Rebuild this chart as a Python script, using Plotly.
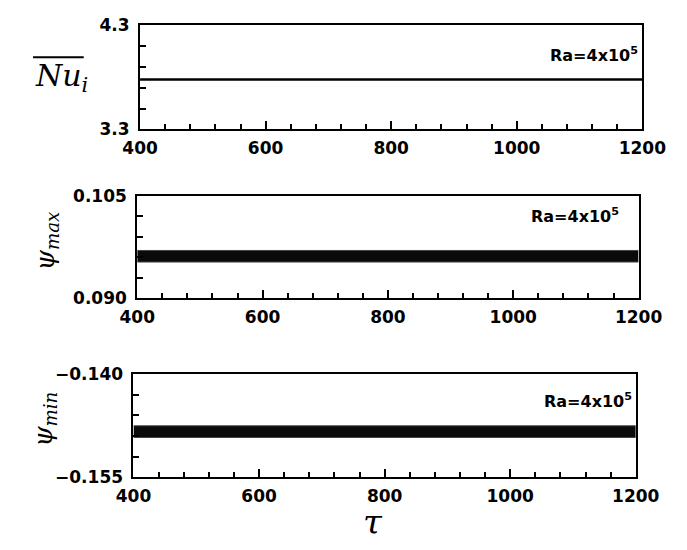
import plotly.graph_objects as go

W, H = 687, 550

# ---- data ----
tau = [400, 600, 800, 1000, 1200]
nu_mean = [3.78, 3.78, 3.78, 3.78, 3.78]
psi_max_upper = [0.0970, 0.0970, 0.0970, 0.0970, 0.0970]
psi_max_lower = [0.0953, 0.0953, 0.0953, 0.0953, 0.0953]
psi_min_upper = [-0.1475, -0.1475, -0.1475, -0.1475, -0.1475]
psi_min_lower = [-0.1492, -0.1492, -0.1492, -0.1492, -0.1492]

x_ticks = [400, 600, 800, 1000, 1200]
x_ticktext = ["400", "600", "800", "1000", "1200"]
nu_ticks = [3.3, 3.5, 3.7, 3.9, 4.1, 4.3]
nu_ticktext = ["3.3", "", "", "", "", "4.3"]
pmax_ticks = [0.090, 0.093, 0.096, 0.099, 0.102, 0.105]
pmax_ticktext = ["0.090", "", "", "", "", "0.105"]
pmin_ticks = [-0.155, -0.152, -0.149, -0.146, -0.143, -0.140]
pmin_ticktext = ["\u22120.155", "", "", "", "", "\u22120.140"]
ra_label = "Ra=4x10<sup>5</sup>"

# ---- layout geometry (pixels) ----
panels = [
    dict(l=130, r=665, t=16, b=124),
    dict(l=127, r=661, t=193, b=299),
    dict(l=123, r=658, t=378, b=485),
]

def px_x(v):
    return v / W

def px_y(v):
    return 1 - v / H

fig = go.Figure()

fig.add_trace(go.Scatter(x=tau, y=nu_mean, mode="lines",
                         line=dict(color="black", width=2.5),
                         xaxis="x", yaxis="y", showlegend=False))
fig.add_trace(go.Scatter(x=tau, y=psi_max_lower, mode="lines",
                         line=dict(color="#444", width=1),
                         xaxis="x2", yaxis="y2", showlegend=False))
fig.add_trace(go.Scatter(x=tau, y=psi_max_upper, mode="lines", fill="tonexty",
                         fillcolor="#0a0a0a", line=dict(color="#444", width=1),
                         xaxis="x2", yaxis="y2", showlegend=False))
fig.add_trace(go.Scatter(x=tau, y=psi_min_lower, mode="lines",
                         line=dict(color="#444", width=1),
                         xaxis="x3", yaxis="y3", showlegend=False))
fig.add_trace(go.Scatter(x=tau, y=psi_min_upper, mode="lines", fill="tonexty",
                         fillcolor="#0a0a0a", line=dict(color="#444", width=1),
                         xaxis="x3", yaxis="y3", showlegend=False))

tickfont = dict(family="DejaVu Sans", size=17, color="black", weight="bold")

yspecs = [
    (nu_ticks, nu_ticktext, [3.3, 4.3]),
    (pmax_ticks, pmax_ticktext, [0.090, 0.105]),
    (pmin_ticks, pmin_ticktext, [-0.155, -0.140]),
]

layout = {}
for i, (p, ys) in enumerate(zip(panels, yspecs), start=1):
    sx = "" if i == 1 else str(i)
    xa = dict(
        domain=[px_x(p["l"]), px_x(p["r"])],
        range=[400, 1200],
        anchor="y" + sx,
        tickvals=x_ticks, ticktext=x_ticktext,
        ticks="inside", ticklen=8, tickwidth=1.5, tickcolor="black",
        minor=dict(dtick=40, tick0=400, ticks="inside", ticklen=5,
                   tickwidth=1.5, tickcolor="black", showgrid=False),
        showline=True, linecolor="black", linewidth=2, mirror=True,
        showgrid=False, zeroline=False,
        tickfont=tickfont, ticklabelstandoff=2,
    )
    ya = dict(
        domain=[px_y(p["b"]), px_y(p["t"])],
        range=ys[2],
        anchor="x" + sx,
        tickvals=ys[0], ticktext=ys[1],
        ticks="inside", ticklen=6, tickwidth=1.5, tickcolor="black",
        showline=True, linecolor="black", linewidth=2, mirror=True,
        showgrid=False, zeroline=False,
        tickfont=tickfont, ticklabelstandoff=5,
    )
    layout["xaxis" + sx] = xa
    layout["yaxis" + sx] = ya

fig.update_layout(**layout)

ann_font_ra = dict(family="DejaVu Sans", size=16, color="black", weight="bold")
title_font = dict(family="DejaVu Serif", size=30, color="black", style="italic")
psi_font = dict(family="DejaVu Serif", size=26, color="black", style="italic")

annotations = [
    dict(x=px_x(662), y=px_y(46), text=ra_label, xanchor="right", yanchor="middle",
         font=ann_font_ra),
    dict(x=px_x(642), y=px_y(213), text=ra_label, xanchor="right", yanchor="middle",
         font=ann_font_ra),
    dict(x=px_x(656), y=px_y(405), text=ra_label, xanchor="right", yanchor="middle",
         font=ann_font_ra),
    dict(x=px_x(46), y=px_y(70), text="<i>Nu</i><sub><i>i</i></sub>",
         xanchor="center", yanchor="middle", font=title_font),
    dict(x=px_x(30), y=px_y(240), text="<i>\u03c8</i><sub><i>max</i></sub>",
         xanchor="center", yanchor="middle", textangle=-90, font=psi_font),
    dict(x=px_x(28), y=px_y(425), text="<i>\u03c8</i><sub><i>min</i></sub>",
         xanchor="center", yanchor="middle", textangle=-90, font=psi_font),
    dict(x=px_x(378), y=px_y(531), text="<i>\u03c4</i>",
         xanchor="center", yanchor="middle",
         font=dict(family="DejaVu Serif", size=34, color="black")),
]
for a in annotations:
    a.update(xref="paper", yref="paper", showarrow=False)

fig.update_layout(
    annotations=annotations,
    shapes=[dict(type="line", xref="paper", yref="paper",
                 x0=px_x(16), x1=px_x(70), y0=px_y(49), y1=px_y(49),
                 line=dict(color="black", width=2))],
    width=W, height=H,
    margin=dict(l=0, r=0, t=0, b=0),
    paper_bgcolor="white", plot_bgcolor="white",
    showlegend=False,
)

fig.write_html("out.html", config={"displayModeBar": False})
